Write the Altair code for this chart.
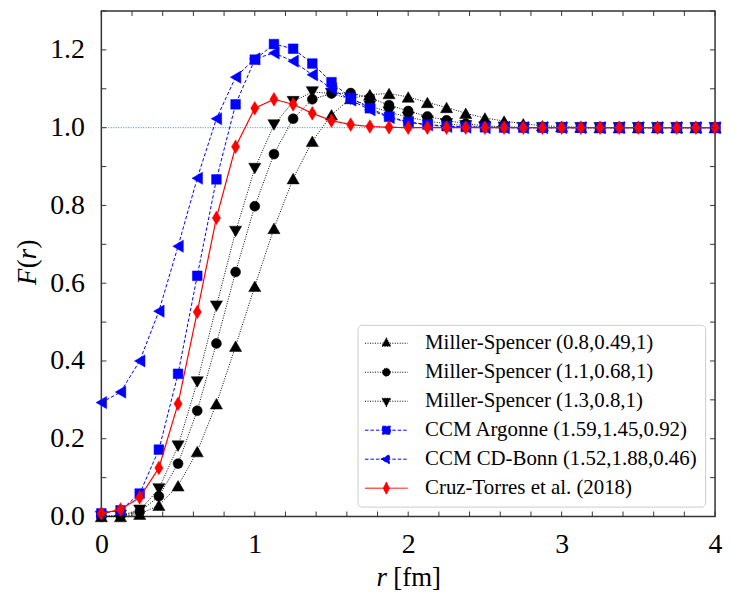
import altair as alt
import pandas as pd

# ---------------- data ----------------
r_vals = [0.0, 0.125, 0.25, 0.375, 0.5, 0.625, 0.75, 0.875, 1.0, 1.125, 1.25,
          1.375, 1.5, 1.625, 1.75, 1.875, 2.0, 2.125, 2.25, 2.375, 2.5, 2.625,
          2.75, 2.875, 3.0, 3.125, 3.25, 3.375, 3.5, 3.625, 3.75, 3.875, 4.0]

series_names = [
    "Miller-Spencer (0.8,0.49,1)",
    "Miller-Spencer (1.1,0.68,1)",
    "Miller-Spencer (1.3,0.8,1)",
    "CCM Argonne (1.59,1.45,0.92)",
    "CCM CD-Bonn (1.52,1.88,0.46)",
    "Cruz-Torres et al. (2018)",
]

ms_08 = [0.0, 0.0, 0.006, 0.029, 0.079, 0.167, 0.290, 0.438, 0.592, 0.741, 0.869,
         0.965, 1.033, 1.075, 1.085, 1.088, 1.079, 1.065, 1.052, 1.037, 1.025, 1.017,
         1.010, 1.005, 1.003, 1.001, 1.0, 1.0, 1.0, 1.0, 1.0, 1.0, 1.0]
ms_11 = [0.0, 0.002, 0.012, 0.052, 0.136, 0.272, 0.445, 0.629, 0.798, 0.932, 1.023,
         1.073, 1.088, 1.089, 1.077, 1.058, 1.043, 1.029, 1.019, 1.010, 1.005, 1.002,
         1.001, 1.0, 1.0, 1.0, 1.0, 1.0, 1.0, 1.0, 1.0, 1.0, 1.0]
ms_13 = [0.0, 0.003, 0.016, 0.071, 0.181, 0.346, 0.541, 0.733, 0.895, 1.007, 1.067,
         1.092, 1.088, 1.073, 1.056, 1.040, 1.027, 1.017, 1.010, 1.005, 1.002, 1.001,
         1.0, 1.0, 1.0, 1.0, 1.0, 1.0, 1.0, 1.0, 1.0, 1.0, 1.0]
ccm_argonne = [0.008, 0.016, 0.059, 0.172, 0.367, 0.619, 0.867, 1.060, 1.175, 1.215, 1.203,
               1.165, 1.117, 1.077, 1.050, 1.028, 1.015, 1.008, 1.004, 1.002, 1.001, 1.0,
               1.0, 1.0, 1.0, 1.0, 1.0, 1.0, 1.0, 1.0, 1.0, 1.0, 1.0]
ccm_cdbonn = [0.293, 0.320, 0.400, 0.528, 0.695, 0.870, 1.023, 1.130, 1.177, 1.192, 1.171,
              1.136, 1.100, 1.071, 1.046, 1.026, 1.014, 1.007, 1.003, 1.001, 1.0, 1.0,
              1.0, 1.0, 1.0, 1.0, 1.0, 1.0, 1.0, 1.0, 1.0, 1.0, 1.0]
cruz_torres = [0.008, 0.018, 0.049, 0.125, 0.290, 0.526, 0.768, 0.951, 1.050, 1.073, 1.060,
               1.037, 1.018, 1.008, 1.003, 1.001, 1.0, 1.0, 1.0, 1.0, 1.0, 1.0,
               1.0, 1.0, 1.0, 1.0, 1.0, 1.0, 1.0, 1.0, 1.0, 1.0, 1.0]

x_tick_labels = [0, 1, 2, 3, 4]
y_tick_labels = [0.0, 0.2, 0.4, 0.6, 0.8, 1.0, 1.2]
x_minor_ticks = [0.0, 0.2, 0.4, 0.6, 0.8, 1.0, 1.2, 1.4, 1.6, 1.8, 2.0, 2.2, 2.4,
                 2.6, 2.8, 3.0, 3.2, 3.4, 3.6, 3.8, 4.0]
y_minor_ticks = [0.0, 0.1, 0.2, 0.3, 0.4, 0.5, 0.6, 0.7, 0.8, 0.9, 1.0, 1.1, 1.2, 1.3]
reference_level = [1.0]

all_series = [ms_08, ms_11, ms_13, ccm_argonne, ccm_cdbonn, cruz_torres]
rows = []
for name, vals in zip(series_names, all_series):
    for rv, fv in zip(r_vals, vals):
        rows.append({"r": rv, "F": fv, "series": name})
df = pd.DataFrame(rows)

# ---------------- styles ----------------
W, H = 618, 509
FONT = "Liberation Serif"
BLUE, RED = "#0000ff", "#ff0000"
colors = ["black", "black", "black", BLUE, BLUE, RED]
dashes = [[1, 1.5], [1, 1.5], [1, 1.5], [3.5, 2], [3.5, 2], [1, 0]]
line_widths = [1, 1, 1, 1, 1, 1.2]
diamond = "M0,-1L0.6,0L0,1L-0.6,0Z"
shapes = ["triangle-up", "circle", "triangle-down", "square", "triangle-left", diamond]
sizes = [150, 100, 150, 95, 150, 190]

# legend symbols: a 43px line segment with the marker in its middle (unit = 5px)
legend_paths = [
    "M-2.2,0L6.4,0M2.1,-1.1L3.0,0.6L1.2,0.6Z",
    "M-2.2,0L6.4,0M1.3,0A0.8,0.8,0,1,0,2.9,0A0.8,0.8,0,1,0,1.3,0Z",
    "M-2.2,0L6.4,0M2.1,1.1L3.0,-0.6L1.2,-0.6Z",
    "M-2.2,0L6.4,0M1.3,-0.8L2.9,-0.8L2.9,0.8L1.3,0.8Z",
    "M-2.2,0L6.4,0M1.0,0L2.7,-0.9L2.7,0.9Z",
    "M-2.2,0L6.4,0M2.1,-1.2L2.7,0L2.1,1.2L1.5,0Z",
]

xs = alt.Scale(domain=[0, 4], nice=False, zero=False)
ys = alt.Scale(domain=[0, 1.3], nice=False, zero=False)
x_axis = alt.Axis(values=x_tick_labels, format="d", title=None, ticks=False, domain=False,
                  grid=False, labelFlush=False, labelOverlap=False, labelPadding=14)
y_axis = alt.Axis(values=y_tick_labels, format=".1f", title=None, ticks=False, domain=False,
                  grid=False, labelFlush=False, labelOverlap=False, labelPadding=17)


def X(field):
    return alt.X(field, scale=xs, axis=x_axis)


def Y(field):
    return alt.Y(field, scale=ys, axis=y_axis)


layers = []

# reference level line
layers.append(
    alt.Chart(pd.DataFrame({"level": reference_level}))
    .mark_rule(color="#2b93c0", strokeDash=[1, 1.5], strokeWidth=1)
    .encode(y=Y("level:Q"))
)

for name, col, dsh, lw, shp, sz in zip(series_names, colors, dashes, line_widths, shapes, sizes):
    base = alt.Chart(df).transform_filter(alt.datum.series == name)
    layers.append(base.mark_line(color=col, strokeDash=dsh, strokeWidth=lw)
                  .encode(x=X("r:Q"), y=Y("F:Q")))
    layers.append(
        base.mark_point(filled=True, shape=shp, size=sz, color=col, opacity=1,
                        stroke=col, strokeWidth=0.5)
        .encode(x=X("r:Q"), y=Y("F:Q"))
    )

# legend-only layer (its marks sit outside the clipped view)
legend_layer = (
    alt.Chart(df)
    .mark_point(filled=True, opacity=1, clip=True, strokeWidth=1)
    .encode(
        x=alt.value(-1000),
        y=alt.value(-1000),
        color=alt.Color("series:N", scale=alt.Scale(domain=series_names, range=colors), title=None),
        stroke=alt.Stroke("series:N", scale=alt.Scale(domain=series_names, range=colors), title=None),
        shape=alt.Shape("series:N", scale=alt.Scale(domain=series_names, range=legend_paths), title=None),
        strokeDash=alt.StrokeDash("series:N", scale=alt.Scale(domain=series_names, range=dashes), title=None),
    )
)
layers.append(legend_layer)

# inward ticks on all four sides
xt = alt.Chart(pd.DataFrame({"t": x_minor_ticks}))
yt = alt.Chart(pd.DataFrame({"t": y_minor_ticks}))
tick_style = dict(color="#333333", strokeWidth=1)
layers.append(xt.mark_rule(**tick_style).encode(x=X("t:Q"), y=alt.value(H), y2=alt.value(H - 5)))
layers.append(xt.mark_rule(**tick_style).encode(x=X("t:Q"), y=alt.value(0), y2=alt.value(5)))
layers.append(yt.mark_rule(**tick_style).encode(y=Y("t:Q"), x=alt.value(0), x2=alt.value(5)))
layers.append(yt.mark_rule(**tick_style).encode(y=Y("t:Q"), x=alt.value(W), x2=alt.value(W - 5)))

# axis titles with italic variables
one = pd.DataFrame({"k": [0]})
TS = 27
layers.append(alt.Chart(one).mark_text(text="r", font=FONT, fontSize=TS, fontStyle="italic",
                                       align="left", baseline="alphabetic", color="black")
              .encode(x=alt.value(W / 2 - 32), y=alt.value(H + 70)))
layers.append(alt.Chart(one).mark_text(text="[fm]", font=FONT, fontSize=TS,
                                       align="left", baseline="alphabetic", color="black")
              .encode(x=alt.value(W / 2 - 15), y=alt.value(H + 70)))
ytitle_parts = [("F", "italic", 276), ("(", "normal", 259), ("r", "italic", 250), (")", "normal", 239)]
for txt, sty, yy in ytitle_parts:
    layers.append(alt.Chart(one).mark_text(text=txt, font=FONT, fontSize=TS, fontStyle=sty,
                                           angle=270, align="left", baseline="alphabetic",
                                           color="black")
                  .encode(x=alt.value(-66), y=alt.value(yy)))

chart = (
    alt.layer(*layers)
    .properties(width=W, height=H,
                padding={"left": 94, "top": 1, "right": 8, "bottom": 78},
                autosize=alt.AutoSizeParams(type="none"))
    .configure_view(stroke="#333333", strokeWidth=1.5)
    .configure_axis(labelFont=FONT, labelFontSize=28, labelColor="black")
    .configure_legend(
        orient="bottom-right", offset=10, padding=8,
        strokeColor="#cccccc", fillColor="white", cornerRadius=4,
        labelFont=FONT, labelFontSize=21, labelColor="black", labelLimit=400,
        labelOffset=39, symbolSize=100, symbolStrokeWidth=1, rowPadding=7.2,
        titlePadding=0,
    )
)

chart.save("out.html", embed_options={"renderer": "svg", "actions": False})
